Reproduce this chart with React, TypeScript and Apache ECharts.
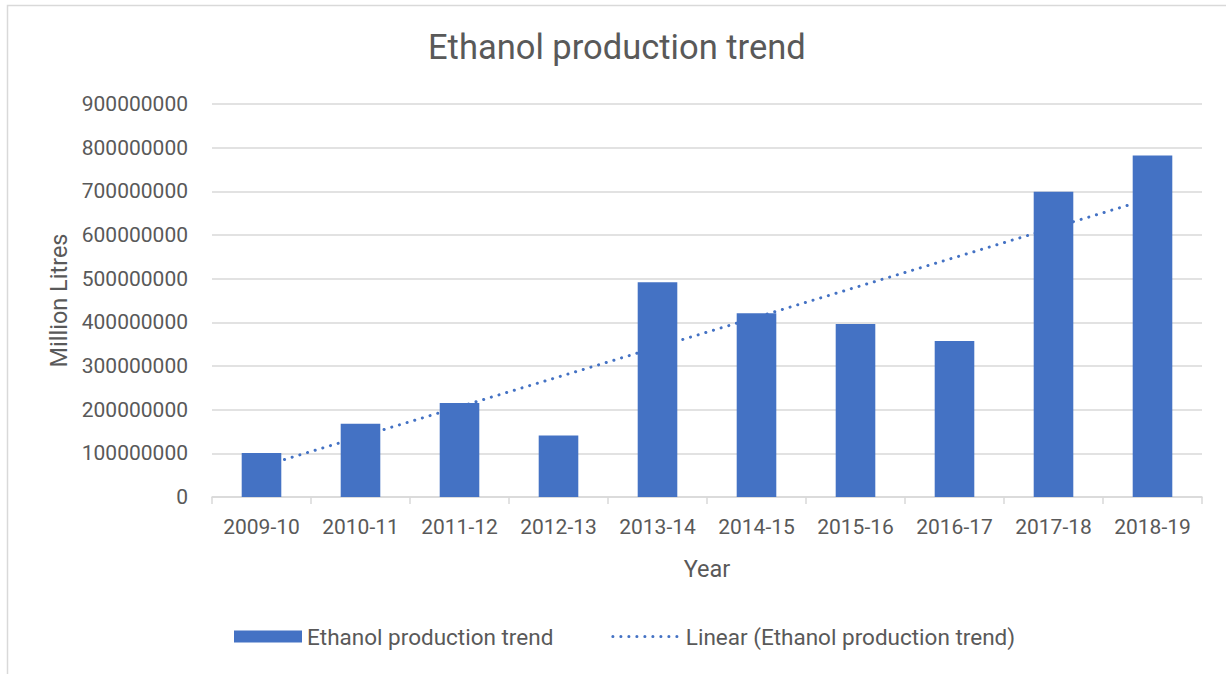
import React, { useEffect, useRef } from "react";
import * as echarts from "echarts";

const categories = [
  "2009-10", "2010-11", "2011-12", "2012-13", "2013-14",
  "2014-15", "2015-16", "2016-17", "2017-18", "2018-19",
];
const production = [
  101000000, 168000000, 215000000, 141000000, 492000000,
  421000000, 396000000, 357000000, 699000000, 782000000,
];
// Linear trendline endpoints (first and last category)
const trendStart = 70000000;
const trendEnd = 685000000;
const trendData = categories.map((_, i) =>
  i === 0 ? trendStart : i === categories.length - 1 ? trendEnd : null
);

const FONT = "Roboto";
const TEXT = "#595959";
const GRID = "#d9d9d9";
const BLUE = "#4472C4";

export default function App() {
  const ref = useRef<HTMLDivElement>(null);
  useEffect(() => {
    if (!ref.current) return;
    const chart = echarts.init(ref.current, null, { renderer: "svg" });
    chart.setOption({
      animation: false,
      backgroundColor: "#ffffff",
      textStyle: { fontFamily: FONT, color: TEXT },
      title: {
        text: "Ethanol production trend",
        left: 423,
        top: 24,
        textStyle: { fontFamily: FONT, fontSize: 34.5, fontWeight: "normal", color: TEXT },
      },
      grid: {
        left: 212,
        right: 24,
        top: 104,
        bottom: 177,
        containLabel: false,
        outerBoundsMode: "none",
      },
      legend: {
        left: 229,
        top: 620,
        itemWidth: 68,
        itemHeight: 12,
        itemGap: 58,
        textStyle: { fontFamily: FONT, fontSize: 22.5, color: TEXT },
        lineStyle: { width: 3 },
        data: [
          { name: "Ethanol production trend", icon: "rect" },
          {
            name: "Linear (Ethanol production trend)",
            itemStyle: { color: "rgba(0,0,0,0)", borderColor: "rgba(0,0,0,0)", borderWidth: 0 },
          },
        ],
      },
      xAxis: {
        type: "category",
        data: categories,
        name: "Year",
        nameLocation: "middle",
        nameGap: 60,
        nameTextStyle: { fontFamily: FONT, fontSize: 23.5, color: TEXT },
        axisLine: { show: true, lineStyle: { color: GRID, width: 1.5 } },
        axisTick: { show: true, length: 7, interval: 0, lineStyle: { color: GRID, width: 1.5 } },
        axisLabel: { fontFamily: FONT, fontSize: 21, color: TEXT, margin: 19, interval: 0 },
      },
      yAxis: {
        type: "value",
        min: 0,
        max: 900000000,
        interval: 100000000,
        name: "Million Litres",
        nameLocation: "middle",
        nameGap: 140,
        nameTextStyle: { fontFamily: FONT, fontSize: 23.5, color: TEXT },
        axisLine: { show: false },
        axisTick: { show: false },
        splitLine: { lineStyle: { color: GRID, width: 1.5 } },
        axisLabel: {
          fontFamily: FONT,
          fontSize: 21,
          color: TEXT,
          margin: 24,
          formatter: (v: number) => String(v),
        },
      },
      series: [
        {
          name: "Ethanol production trend",
          type: "bar",
          data: production,
          barWidth: "40%",
          itemStyle: { color: BLUE },
          z: 3,
        },
        {
          name: "Linear (Ethanol production trend)",
          type: "line",
          data: trendData,
          connectNulls: true,
          symbol: "none",
          z: 1,
          lineStyle: { color: BLUE, width: 3, type: [0.1, 7.9], cap: "round" },
          itemStyle: { color: BLUE },
        },
      ],
      graphic: [
        {
          type: "rect",
          shape: { x: 7.5, y: 5.5, width: 1240, height: 700 },
          style: { fill: "none", stroke: GRID, lineWidth: 1.5 },
          silent: true,
          z: -1,
        },
      ],
    });
    return () => chart.dispose();
  }, []);
  return (
    <div
      ref={ref}
      style={{ position: "fixed", left: 0, top: 0, width: 1226, height: 674 }}
    />
  );
}
